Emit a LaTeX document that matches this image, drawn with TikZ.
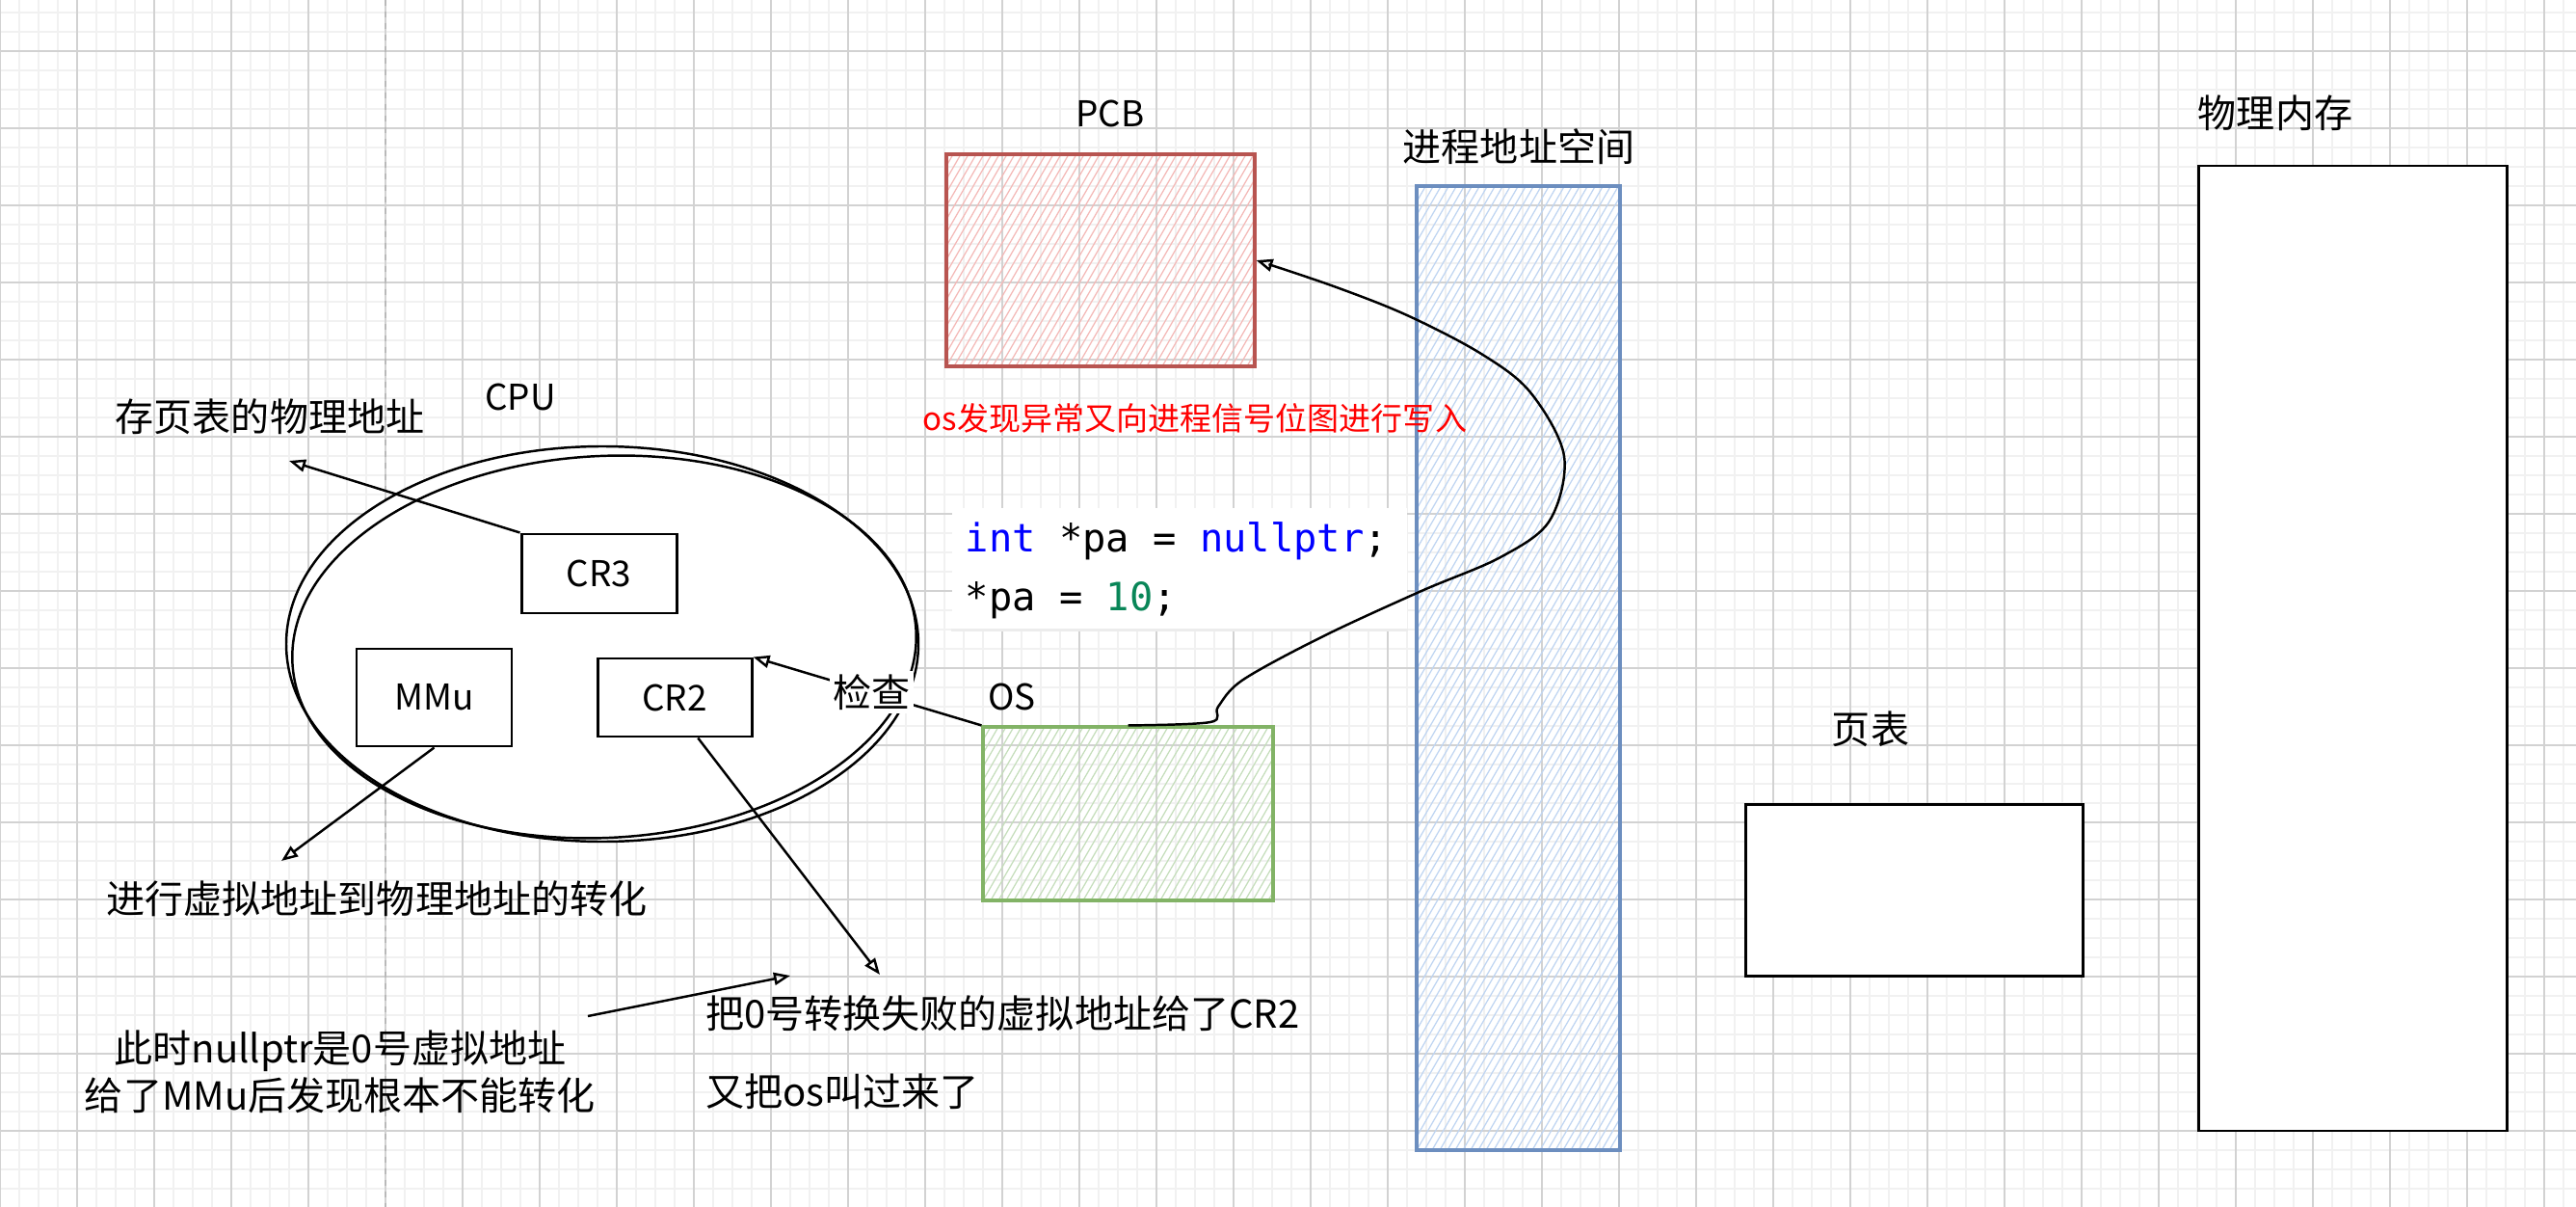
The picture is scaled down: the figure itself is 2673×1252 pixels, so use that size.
\documentclass[tikz,border=0pt]{standalone}
\usepackage{fontspec}
\setmainfont{Noto Sans CJK SC}
\newfontfamily\codefont{DejaVu Sans Mono}
\usetikzlibrary{arrows.meta,shapes.geometric}

\definecolor{pcbline}{HTML}{B85450}
\definecolor{pcbfill}{HTML}{F4B9B7}
\definecolor{vasline}{HTML}{6C8EBF}
\definecolor{vasfill}{HTML}{BFD5F2}
\definecolor{osline}{HTML}{82B366}
\definecolor{osfill}{HTML}{C5DEBB}
\definecolor{kwblue}{HTML}{0000FF}
\definecolor{numgreen}{HTML}{098658}
\definecolor{minorgrid}{HTML}{F1F1F1}
\definecolor{majorgrid}{HTML}{D2D2D2}

\tikzset{
  minor/.style={minorgrid, line width=0.45pt},
  major/.style={majorgrid, line width=0.4pt},
  hatch/.style={path picture={
      \foreach \k in {-75,...,50}
        \draw[#1, line width=0.35pt] ([xshift=\k*0.8mm]path picture bounding box.south west) -- ++(60:120mm);}},
  box/.style={draw, line width=0.85pt, fill=white, inner sep=0pt},
  colbox/.style={draw=#1line, line width=0.9pt, inner sep=0pt, hatch=#1fill},
  lbl/.style={font=\fontsize{11.4}{14}\selectfont, inner sep=1pt},
  latin/.style={font=\fontsize{10.5}{12}\selectfont, inner sep=1pt},
  arr/.style={-{Triangle[open,length=1.7mm,width=1.3mm]}, line width=0.7pt},
}

\begin{document}
\begin{tikzpicture}[x=0.1mm, y=-0.1mm]
\useasboundingbox (0,0) rectangle (2673,1252);
\fill[white] (0,0) rectangle (2673,1252);
% grid
\foreach \x in {0,20,...,2660} \draw[minor] (\x,0) -- (\x,1252);
\foreach \y in {13,33,...,1253} \draw[minor] (0,\y) -- (2673,\y);
\foreach \x in {0,80,...,2640} \draw[major] (\x,0) -- (\x,1252);
\foreach \y in {53,133,...,1213} \draw[major] (0,\y) -- (2673,\y);
\draw[gray!55, line width=0.5pt, dash pattern=on 0.6mm off 0.6mm] (400,0) -- (400,1252);

% memory side
\node[colbox=pcb, minimum width=32mm, minimum height=22mm] (pcb) at (1142,270) {};
\node[colbox=vas, minimum width=21.1mm, minimum height=100mm] (vas) at (1575.5,693) {};
\node[colbox=os, minimum width=30.1mm, minimum height=18mm] (os) at (1170.5,844) {};
\node[box, minimum width=32mm, minimum height=100.1mm] (mem) at (2441,672.5) {};
\node[box, minimum width=35mm, minimum height=17.8mm] (pt) at (1986,923) {};

% code
\node[fill=white, minimum width=47.2mm, minimum height=12.6mm, inner sep=0pt] (code) at (1224,590) {};
\draw[gray!15, line width=1pt] (code.south west) -- (code.south east);
\node[anchor=base west, inner sep=0pt, font=\codefont\fontsize{11.5}{13}\selectfont] (line1) at (1001,572)
  {\textcolor{kwblue}{int} *pa = \textcolor{kwblue}{nullptr};};
\node[anchor=base west, inner sep=0pt, font=\codefont\fontsize{11.5}{13}\selectfont] (line2) at (1001,633)
  {*pa = \textcolor{numgreen}{10};};

% cpu
\node[draw, ellipse, line width=0.7pt, fill=white, minimum width=65.6mm, minimum height=41mm] (cpu) at (625,668) {};
\draw[line width=0.7pt, rotate around={3:(627,671)}] (627,671) ellipse [x radius=32.4mm, y radius=19.8mm];
\node[box, latin, minimum width=16.1mm, minimum height=8.2mm] (cr3) at (621.5,595) {CR3};
\node[box, latin, minimum width=16.1mm, minimum height=10.1mm] (mmu) at (450.5,723.5) {MMu};
\node[box, latin, minimum width=16mm, minimum height=8.1mm] (cr2) at (700,723.5) {CR2};

% labels
\node[latin] (pcblbl) at (1152,118) {PCB};
\node[lbl] (vaslbl) at (1576,152) {进程地址空间};
\node[lbl] (memlbl) at (2361,117) {物理内存};
\node[lbl] (ptlbl) at (1941,756) {页表};
\node[latin] (oslbl) at (1050,723) {OS};
\node[latin] (cpulbl) at (540,412) {CPU};
\node[lbl] (cr3note) at (280,432) {存页表的物理地址};
\node[lbl] (mmunote) at (391,932) {进行虚拟地址到物理地址的转化};
\node[lbl, align=center] (nullnote) at (353,1112) {此时nullptr是0号虚拟地址\\给了MMu后发现根本不能转化};
\node[lbl, anchor=west] (cr2note) at (728,1051) {把0号转换失败的虚拟地址给了CR2};
\node[lbl, anchor=west] (callnote) at (728,1132) {又把os叫过来了};
\node[lbl, text=red, font=\fontsize{9.4}{12}\selectfont] (sigtext) at (1240,434) {os发现异常又向进程信号位图进行写入};

% arrows
\coordinate (c3end) at (300,478);
\coordinate (mmuend) at (292,893);
\coordinate (cr2end) at (913,1011);
\coordinate (nullstart) at (610,1054);
\coordinate (nullend) at (820,1012);
\draw[arr] (cr3.north west) -- (c3end);
\draw[arr] (mmu.south) -- (mmuend);
\draw[arr] (cr2.300) -- (cr2end);
\draw[arr] (nullstart) -- (nullend);
\draw[arr] (os.north west) -- node[lbl, fill=white, pos=0.48] (chk) {检查} (cr2.north east);
\draw[arr] plot[smooth, tension=0.55] coordinates {(os.north) (1256,749) (1264,733) (1290,705)
  (1373,660) (1475,613) (1557,578) (1608,540) (1623,473) (1588,407) (1537,367) (1460,327)
  (1384,297) (pcb.east)};
\end{tikzpicture}
\end{document}
